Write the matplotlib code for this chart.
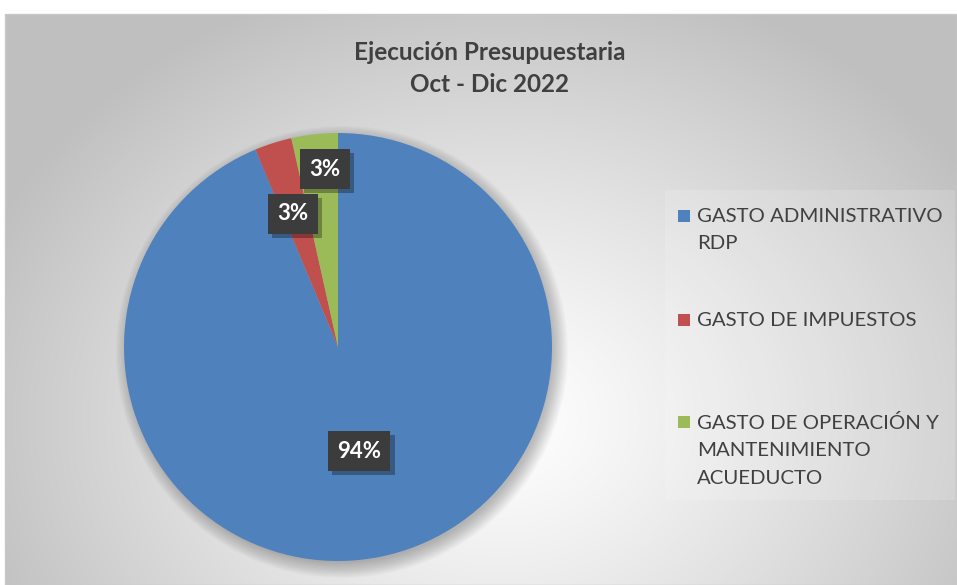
import numpy as np
import matplotlib
matplotlib.use("Agg")
import matplotlib.pyplot as plt
import matplotlib.patheffects as pe
from matplotlib.patches import Rectangle, Circle

categories = ["GASTO ADMINISTRATIVO\nRDP", "GASTO DE IMPUESTOS",
              "GASTO DE OPERACIÓN Y\nMANTENIMIENTO\nACUEDUCTO"]
values = [93.7, 2.8, 3.5]
pct_labels = ["94%", "3%", "3%"]
colors = ["#4f81bd", "#c0504d", "#9bbb59"]
title_lines = ["Ejecución Presupuestaria", "Oct - Dic 2022"]

W, H = 957, 585
fig = plt.figure(figsize=(W / 100, H / 100), dpi=100)
fig.patch.set_facecolor("white")
ax = fig.add_axes([0, 0, 1, 1])
ax.set_xlim(0, W)
ax.set_ylim(0, H)
ax.set_aspect("equal")
ax.axis("off")

# background radial gradient in chart frame
x0, x1, ytop, ybot = 5, 957, 14, 585
gx = np.linspace(x0, x1, 400)
gy = np.linspace(ytop, ybot, 260)
GX, GY = np.meshgrid(gx, gy)
cx, cy = 500, 420
d = np.sqrt(((GX - cx) / 560) ** 2 + ((GY - cy) / 460) ** 2)
d = np.clip(d, 0, 1)
val = 1.0 - 0.25 * d ** 1.2
img = np.dstack([val, val, val])
ax.imshow(img, extent=(x0, x1, H - ybot, H - ytop), origin="upper", zorder=0,
          interpolation="bilinear")
ax.add_patch(Rectangle((x0, H - ybot), x1 - x0, ybot - ytop, fill=False,
                       edgecolor="#c8c8c8", lw=1, zorder=1))

# legend background panel
ax.add_patch(Rectangle((665, H - 500), 290, 310, facecolor="white", alpha=0.15,
                       edgecolor="none", zorder=1))

# pie
pcx, pcy, r = 338, H - 347, 214
for i in range(14):
    ax.add_patch(Circle((pcx + 4, pcy - 5), r + 12 - i * 1.2, facecolor="#000000",
                        alpha=0.018, edgecolor="none", zorder=2))
ax.pie(values, colors=colors, startangle=90, counterclock=False,
       center=(pcx, pcy), radius=r, frame=True,
       wedgeprops=dict(linewidth=0, zorder=3))
ax.set_xlim(0, W)
ax.set_ylim(0, H)
ax.axis("off")

# data labels
label_pos = [(359, 451), (293, 214), (325, 169)]
for (lx, ly), t in zip(label_pos, pct_labels):
    txt = ax.text(lx, H - ly, t, ha="center", va="center", fontsize=16,
                  fontweight="bold", color="white", family="Lato", zorder=5,
                  bbox=dict(boxstyle="square,pad=0.42", facecolor="#3c3c3c",
                            edgecolor="none"))
    txt.get_bbox_patch().set_path_effects(
        [pe.SimplePatchShadow(offset=(3, -3), shadow_rgbFace="black", alpha=0.3),
         pe.Normal()])

# title
ax.text(490, H - 52, title_lines[0], ha="center", va="center", fontsize=17.5,
        fontweight="bold", color="#404040", family="Lato", zorder=5)
ax.text(490, H - 85, title_lines[1], ha="center", va="center", fontsize=17.5,
        fontweight="bold", color="#404040", family="Lato", zorder=5)

# legend
leg_y = [216, 320, 422]
for c, lab, y in zip(colors, categories, leg_y):
    ax.add_patch(Rectangle((678, H - y - 6), 12, 12, facecolor=c, edgecolor="none",
                           zorder=5))
    ax.text(697, H - y + 8, lab, ha="left", va="top", fontsize=14.7,
            color="#404040", family="Lato", linespacing=1.74, zorder=5)

fig.savefig("out.png", dpi=100, facecolor="white")
